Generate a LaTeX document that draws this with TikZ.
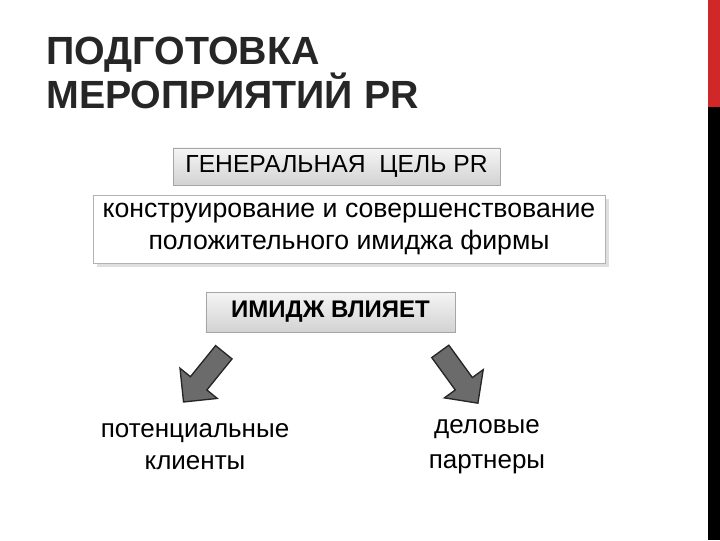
\documentclass[tikz,border=0pt]{standalone}
\usepackage{fontspec}
\setmainfont{Liberation Sans}
\usetikzlibrary{shapes.arrows,shadows}
\definecolor{redbar}{RGB}{208,40,40}
\begin{document}
\begin{tikzpicture}[x=0.75pt,y=-0.75pt,
  graybox/.style={draw=gray!70,top color=gray!8,bottom color=gray!35,inner sep=0pt,font=\fontsize{18.5}{20}\selectfont},
  bigarrow/.style={single arrow,draw=gray!30!black,fill=gray!55!black!80,line width=1pt,minimum height=48pt,minimum width=36pt,single arrow head extend=7pt,inner sep=5pt},
  lbl/.style={font=\fontsize{19.5}{24}\selectfont,align=center}]
\useasboundingbox (0,0) rectangle (720,540);
\fill[white] (0,0) rectangle (720,540);
\fill[redbar] (708,0) rectangle (720,107);
\fill[black] (708,107) rectangle (720,540);
\node[anchor=north west,align=left,inner sep=0pt,text=black!85,font=\fontsize{29.5}{33}\selectfont\bfseries] (title) at (46,37) {ПОДГОТОВКА\\МЕРОПРИЯТИЙ PR};
\node[graybox,minimum width=245pt,minimum height=28pt] (goal) at (336.5,166.5) {ГЕНЕРАЛЬНАЯ\ \ ЦЕЛЬ PR};
\node[draw=gray!60,fill=white,drop shadow={opacity=0.25},minimum width=384pt,minimum height=51pt,align=center,font=\fontsize{20}{24}\selectfont] (desc) at (349,229) {конструирование и совершенствование\\положительного имиджа фирмы};
\node[graybox,minimum width=187pt,minimum height=30pt,font=\fontsize{18}{20}\selectfont\bfseries] (infl) at (330.5,312) {ИМИДЖ ВЛИЯЕТ};
\node[bigarrow,rotate=231] (la) at (207,373) {};
\node[bigarrow,rotate=-54] (ra) at (456,373) {};
\node[lbl] (cl) at (195,447) {потенциальные\\клиенты};
\node[lbl,font=\fontsize{19.5}{26}\selectfont] (pa) at (487,447) {деловые\\партнеры};
\end{tikzpicture}
\end{document}
